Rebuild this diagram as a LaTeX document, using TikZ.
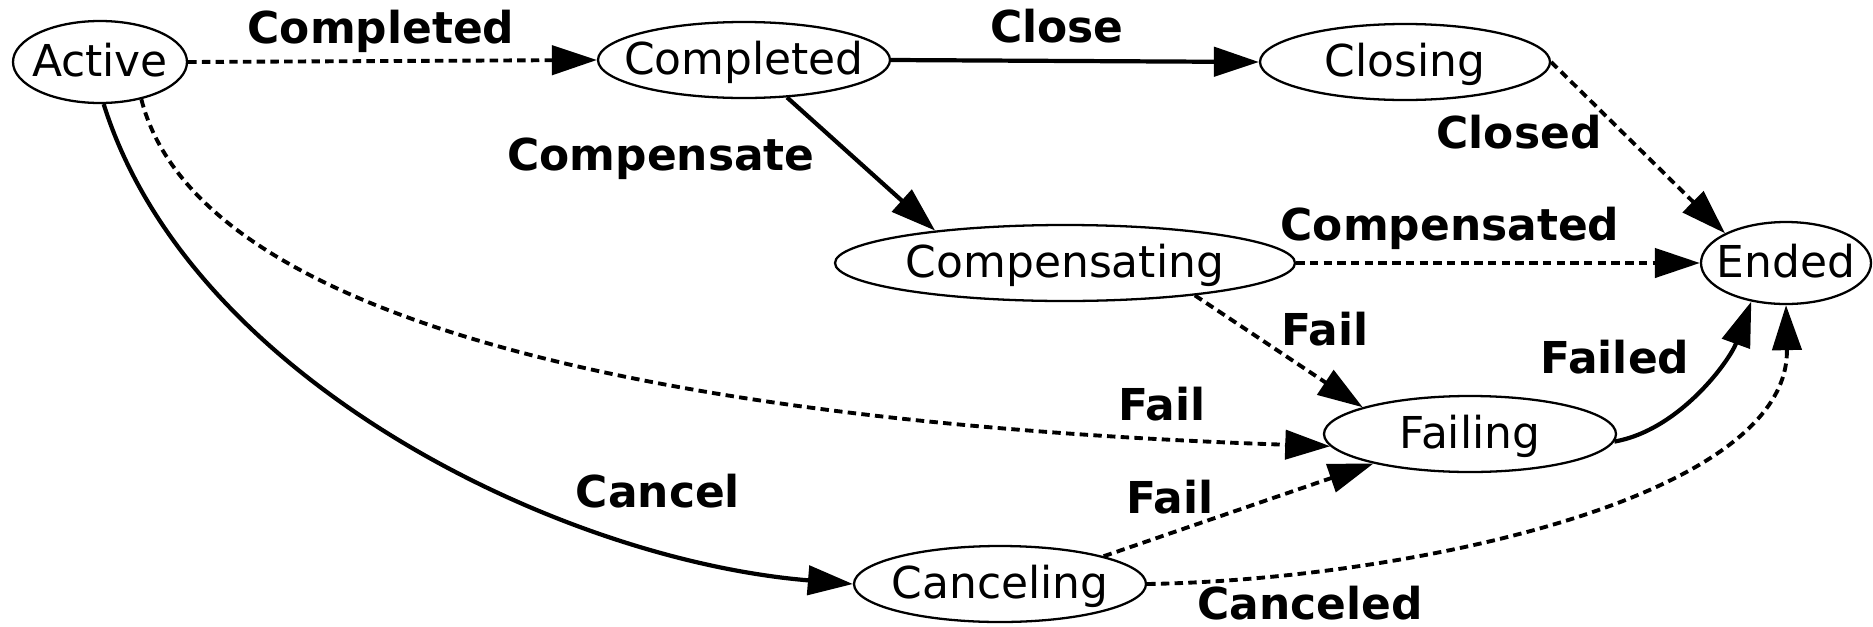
\documentclass[tikz,border=0pt]{standalone}
\usepackage{fontspec}
\setmainfont{DejaVu Sans}
\usetikzlibrary{shapes.geometric, arrows.meta}

\begin{document}
\begin{tikzpicture}[
        state/.style={ellipse, draw, line width=0.65pt, inner sep=0pt, minimum height=0.76cm,
            text height=10pt, text depth=2pt, font=\fontsize{12.5}{15}\selectfont,
            execute at begin node={\hbox to 0pt\bgroup\hss}, execute at end node={\hss\egroup}},
        lbl/.style={inner sep=0pt, text height=10pt, text depth=2pt, font=\fontsize{12.5}{15}\selectfont\bfseries},
        trans/.style={line width=1.2pt, -{Triangle[length=12.8pt, width=8.3pt]}},
        dtrans/.style={trans, line width=1.1pt, dash pattern=on 2.4pt off 1.5pt}
    ]
        \useasboundingbox (0,0) rectangle (18.73,-6.26);
        \node[state, minimum width=1.74cm, minimum height=0.82cm] (active) at (1.00,-0.62) {Active};
        \node[state, minimum width=2.92cm] (completed) at (7.44,-0.60) {Completed};
        \node[state, minimum width=2.90cm] (closing) at (14.05,-0.62) {Closing};
        \node[state, minimum width=4.60cm] (compensating) at (10.65,-2.63) {Compensating};
        \node[state, minimum width=1.70cm, minimum height=0.82cm] (ended) at (17.86,-2.63) {Ended};
        \node[state, minimum width=2.92cm] (failing) at (14.70,-4.34) {Failing};
        \node[state, minimum width=2.92cm] (canceling) at (10.00,-5.84) {Canceling};
        \foreach \n/\x/\y/\t in {lcompleted/3.81/-0.29/Completed, lclose/10.57/-0.28/Close,
            lcompensate/6.61/-1.56/Compensate, lclosed/15.19/-1.34/Closed,
            lcompensated/14.50/-2.26/Compensated, lfaila/13.25/-3.31/Fail,
            lfailed/16.15/-3.59/Failed, lfailb/11.62/-4.06/Fail, lcancel/6.58/-4.93/Cancel,
            lfailc/11.70/-4.99/Fail, lcanceled/13.10/-6.05/Canceled} {
            \node[lbl] (\n) at (\x,\y) {\t};
        }
        \draw[dtrans] (active.east) -- (completed.west);
        \draw[trans] (completed.east) -- (closing.west);
        \draw[trans] (completed.-41) -- (compensating.166);
        \draw[dtrans] (closing.east) -- (ended.154);
        \draw[dtrans] (compensating.east) -- (ended.west);
        \draw[dtrans] (compensating.-14) -- (failing.166);
        \draw[dtrans] (active.-42) .. controls (2.00,-3.30) and (7.00,-4.25) .. (failing.185);
        \draw[trans] (active.-85) .. controls (1.90,-3.80) and (5.60,-5.60) .. (canceling.west);
        \draw[dtrans] (canceling.15) -- (failing.197);
        \draw[dtrans] (canceling.east) .. controls (14.00,-5.80) and (17.90,-5.00) .. (ended.south);
        \draw[trans] (failing.-3) .. controls (16.80,-4.30) and (17.30,-3.60) .. (ended.-132);
    \end{tikzpicture}
\end{document}
